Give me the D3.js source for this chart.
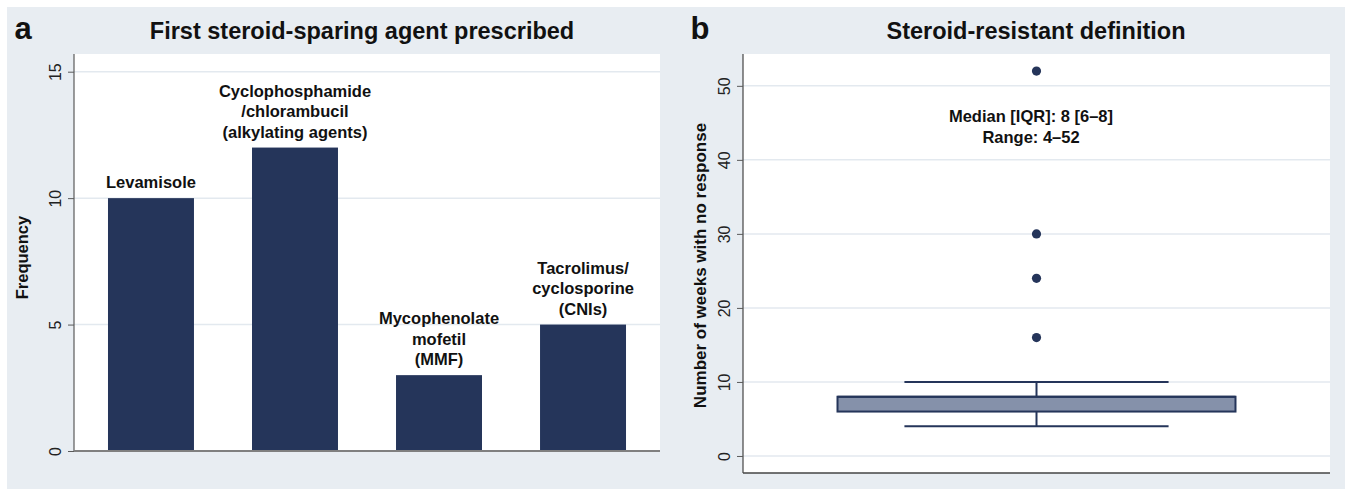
<!DOCTYPE html>
<html><head><meta charset="utf-8">
<script src="https://cdn.jsdelivr.net/npm/d3@7"></script>
<style>
html,body{margin:0;padding:0;background:#fff;}
svg{display:block;font-family:"Liberation Sans",Arial,sans-serif;}
</style></head>
<body>
<svg id="c" width="1345" height="489"></svg>
<script>
// ---- data ----
const agents = ["Levamisole", "Cyclophosphamide", "MMF", "CNIs"];
const agentLabels = [
  ["Levamisole"],
  ["Cyclophosphamide", "/chlorambucil", "(alkylating agents)"],
  ["Mycophenolate", "mofetil", "(MMF)"],
  ["Tacrolimus/", "cyclosporine", "(CNIs)"]
];
const frequency = [10, 12, 3, 5];
const freqTicks = [0, 5, 10, 15];

const boxStats = {min: 4, q1: 6, median: 8, q3: 8, whiskerHigh: 10};
const outliers = [16, 24, 30, 52];
const weekTicks = [0, 10, 20, 30, 40, 50];
const annotation = ["Median [IQR]: 8 [6\u20138]", "Range: 4\u201352"];

// ---- style ----
const BG = "#e8edf2", NAVY = "#25355a", BOXFILL = "#8591aa", GRID = "#e3e9ef", AXIS = "#5a5a5a";
const svg = d3.select("#c");

svg.append("rect").attr("x", 7).attr("y", 7).attr("width", 1338).attr("height", 482).attr("fill", BG);

function panelText(x, y, txt, size, weight, anchor) {
  return svg.append("text").attr("x", x).attr("y", y).attr("font-size", size)
    .attr("font-weight", weight || "bold").attr("text-anchor", anchor || "middle")
    .attr("fill", "#111").text(txt);
}

// ================= Panel a =================
const A = {l: 74, r: 660, t: 54, b: 451};
const xA = d3.scaleBand().domain(agents).range([A.l, A.r]).paddingInner(0.403).paddingOuter(0.236);
const yA = d3.scaleLinear().domain([0, 15.7]).range([A.b, A.t]);

svg.append("rect").attr("x", A.l).attr("y", A.t).attr("width", A.r - A.l).attr("height", A.b - A.t).attr("fill", "#fff");
svg.append("g").selectAll("line").data(freqTicks.filter(d => d > 0)).join("line")
  .attr("x1", A.l).attr("x2", A.r).attr("y1", d => yA(d)).attr("y2", d => yA(d))
  .attr("stroke", GRID).attr("stroke-width", 1.5);

svg.append("g").selectAll("rect").data(frequency).join("rect")
  .attr("x", (d, i) => xA(agents[i])).attr("width", xA.bandwidth())
  .attr("y", d => yA(d)).attr("height", d => yA(0) - yA(d)).attr("fill", NAVY);

// bar labels
agentLabels.forEach((lines, i) => {
  const cx = xA(agents[i]) + xA.bandwidth() / 2;
  const base = yA(frequency[i]) - 10;
  lines.forEach((ln, j) => {
    panelText(cx, base - (lines.length - 1 - j) * 20.5, ln, 16.5);
  });
});

const axA = svg.append("g").attr("transform", `translate(${A.l},0)`)
  .call(d3.axisLeft(yA).tickValues(freqTicks).tickSize(6).tickPadding(4));
axA.select(".domain").attr("d", `M0,${A.t}V${A.b}`).attr("stroke", AXIS).attr("stroke-width", 1.2);
axA.selectAll(".tick line").attr("stroke", AXIS);
axA.selectAll(".tick text").attr("font-size", 16).attr("fill", "#222").attr("font-family", "Liberation Sans, Arial, sans-serif")
  .attr("transform", "rotate(-90)").attr("text-anchor", "middle").attr("x", 0).attr("dy", 0)
  .attr("y", -13);
svg.append("line").attr("x1", A.l).attr("x2", A.r).attr("y1", A.b).attr("y2", A.b).attr("stroke", "#808080").attr("stroke-width", 1.8);

svg.append("text").attr("transform", `translate(28,${(A.t + A.b) / 2 + 5}) rotate(-90)`)
  .attr("text-anchor", "middle").attr("font-size", 16.5).attr("font-weight", "bold").attr("fill", "#111").text("Frequency");

panelText(362, 39, "First steroid-sparing agent prescribed", 23.5);
panelText(23, 39, "a", 31);

// ================= Panel b =================
const B = {l: 743, r: 1330, t: 54, b: 473};
const xB = d3.scaleBand().domain(["all"]).range([B.l, B.r]);
const yB = d3.scaleLinear().domain([-2.3, 54.3]).range([B.b, B.t]);
const cxB = xB("all") + xB.bandwidth() / 2;
const boxHalf = xB.bandwidth() * 0.339, capHalf = xB.bandwidth() * 0.225;

svg.append("rect").attr("x", B.l).attr("y", B.t).attr("width", B.r - B.l).attr("height", B.b - B.t).attr("fill", "#fff");
svg.append("g").selectAll("line").data(weekTicks).join("line")
  .attr("x1", B.l).attr("x2", B.r).attr("y1", d => yB(d)).attr("y2", d => yB(d))
  .attr("stroke", GRID).attr("stroke-width", 1.5);

const g = svg.append("g").attr("stroke", NAVY).attr("stroke-width", 2);
g.append("line").attr("x1", cxB).attr("x2", cxB).attr("y1", yB(boxStats.q3)).attr("y2", yB(boxStats.whiskerHigh));
g.append("line").attr("x1", cxB).attr("x2", cxB).attr("y1", yB(boxStats.q1)).attr("y2", yB(boxStats.min));
g.append("line").attr("x1", cxB - capHalf).attr("x2", cxB + capHalf).attr("y1", yB(boxStats.whiskerHigh)).attr("y2", yB(boxStats.whiskerHigh));
g.append("line").attr("x1", cxB - capHalf).attr("x2", cxB + capHalf).attr("y1", yB(boxStats.min)).attr("y2", yB(boxStats.min));
g.append("rect").attr("x", cxB - boxHalf).attr("width", boxHalf * 2)
  .attr("y", yB(boxStats.q3)).attr("height", yB(boxStats.q1) - yB(boxStats.q3)).attr("fill", BOXFILL);
g.append("line").attr("x1", cxB - boxHalf).attr("x2", cxB + boxHalf).attr("y1", yB(boxStats.median)).attr("y2", yB(boxStats.median));

svg.append("g").selectAll("circle").data(outliers).join("circle")
  .attr("cx", cxB).attr("cy", d => yB(d)).attr("r", 4.6).attr("fill", NAVY);

annotation.forEach((t, i) => panelText(1031, 122 + i * 20.5, t, 16.5));

const axB = svg.append("g").attr("transform", `translate(${B.l},0)`)
  .call(d3.axisLeft(yB).tickValues(weekTicks).tickSize(6).tickPadding(4));
axB.select(".domain").attr("d", `M0,${B.t}V${B.b}`).attr("stroke", "#444").attr("stroke-width", 1.2);
axB.selectAll(".tick line").attr("stroke", AXIS);
axB.selectAll(".tick text").attr("font-size", 16).attr("fill", "#222").attr("font-family", "Liberation Sans, Arial, sans-serif")
  .attr("transform", "rotate(-90)").attr("text-anchor", "middle").attr("x", 0).attr("dy", 0)
  .attr("y", -13);
svg.append("line").attr("x1", B.l).attr("x2", B.r).attr("y1", B.b).attr("y2", B.b).attr("stroke", "#444").attr("stroke-width", 1.5);

svg.append("text").attr("transform", `translate(706,${(B.t + B.b) / 2 + 2}) rotate(-90)`)
  .attr("text-anchor", "middle").attr("font-size", 17).attr("font-weight", "bold").attr("fill", "#111").text("Number of weeks with no response");

panelText(1036, 39, "Steroid-resistant definition", 23.5);
panelText(700, 39, "b", 31);
</script>
</body></html>
